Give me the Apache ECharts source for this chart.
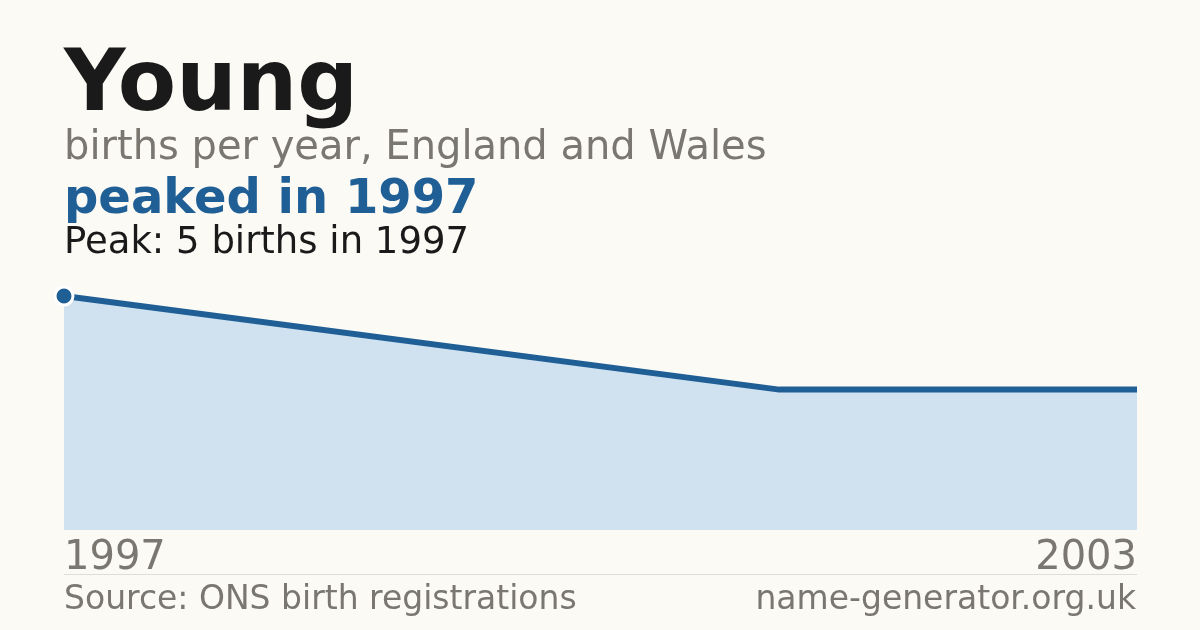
<!DOCTYPE html>
<html><head><meta charset="utf-8">
<script src="https://cdn.jsdelivr.net/npm/echarts@6/dist/echarts.min.js"></script>
<style>html,body{margin:0;padding:0;background:#fbfaf5;}#c{width:1200px;height:630px;}</style>
</head><body><div id="c"></div>
<script>
const years = [1997, 2001, 2002, 2003];
const births = [5, 3, 3, 3];
const axisYears = [1997, 2003];
const titleText = 'Young';
const subtitleText = 'births per year, England and Wales';
const headlineText = 'peaked in 1997';
const peakText = 'Peak: 5 births in 1997';
const sourceText = 'Source: ONS birth registrations';
const siteText = 'name-generator.org.uk';

const F = 'DejaVu Sans';
const peakIdx = births.indexOf(Math.max(...births));
const chart = echarts.init(document.getElementById('c'));
chart.setOption({
  backgroundColor: '#fbfaf5',
  animation: false,
  grid: {left: 64, right: 63, top: 296, bottom: 100},
  xAxis: {
    type: 'value', min: 1997, max: 2003,
    axisLine: {show: false}, axisTick: {show: false}, splitLine: {show: false},
    axisLabel: {
      customValues: axisYears, formatter: v => String(v),
      color: '#7a7670', fontFamily: F, fontSize: 40, margin: 9,
      alignMinLabel: 'left', alignMaxLabel: 'right'
    }
  },
  yAxis: {type: 'value', min: 0, max: 5, show: false, splitLine: {show: false}},
  series: [{
    type: 'line',
    data: years.map((y, i) => ({value: [y, births[i]], symbolSize: i === peakIdx ? 18 : 0})),
    lineStyle: {color: '#1f5f96', width: 6},
    areaStyle: {color: '#d0e1f0', opacity: 1},
    symbol: 'circle',
    showSymbol: true,
    itemStyle: {color: '#1f5f96', borderColor: '#ffffff', borderWidth: 3},
    emphasis: {disabled: true},
    clip: false
  }],
  graphic: [
    {type: 'text', left: 64, top: 45, style: {text: titleText, font: 'bold 85px "DejaVu Sans"', fill: '#1a1a1a'}},
    {type: 'text', left: 64, top: 129, style: {text: subtitleText, font: '40px "DejaVu Sans"', fill: '#7a7670'}},
    {type: 'text', left: 64, top: 177, style: {text: headlineText, font: 'bold 48px "DejaVu Sans"', fill: '#1f5f96'}},
    {type: 'text', left: 64, top: 225, style: {text: peakText, font: '37px "DejaVu Sans"', fill: '#1a1a1a'}},
    {type: 'line', shape: {x1: 64, y1: 574.5, x2: 1137, y2: 574.5}, style: {stroke: '#deddd8', lineWidth: 1}},
    {type: 'text', left: 64, top: 584, style: {text: sourceText, font: '33px "DejaVu Sans"', fill: '#7a7670'}},
    {type: 'text', right: 64, top: 584, style: {text: siteText, font: '33px "DejaVu Sans"', fill: '#7a7670'}}
  ]
});
</script></body></html>
